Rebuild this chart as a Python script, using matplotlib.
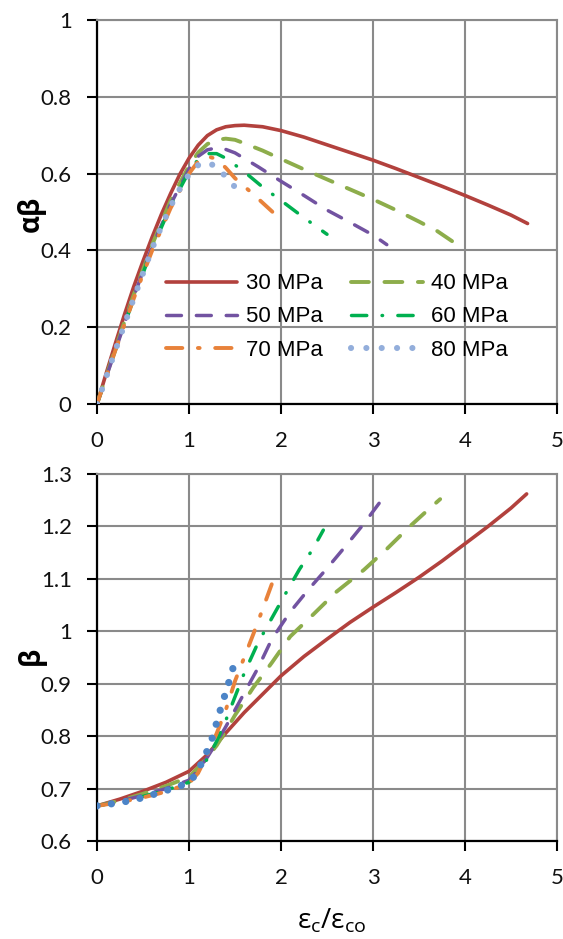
import matplotlib
matplotlib.use('Agg')
import matplotlib.pyplot as plt
from matplotlib.ticker import FixedLocator, FuncFormatter

plt.rcParams['font.family'] = ['Lato', 'DejaVu Sans']
plt.rcParams['mathtext.fontset'] = 'custom'
plt.rcParams['mathtext.rm'] = 'Open Sans'
plt.rcParams['mathtext.it'] = 'Open Sans'
plt.rcParams['mathtext.bf'] = 'Open Sans:bold'

# ---------------- data ----------------
labels = ['30 MPa', '40 MPa', '50 MPa', '60 MPa', '70 MPa', '80 MPa']

# top panel: alpha*beta vs strain ratio
x30 = [0, 0.1, 0.2, 0.3, 0.4, 0.5, 0.6, 0.7, 0.8, 0.9, 1.0, 1.1, 1.2, 1.3, 1.4, 1.5, 1.6, 1.8, 2.0,
       2.25, 2.5, 2.75, 3.0, 3.25, 3.5, 3.75, 4.0, 4.25, 4.5, 4.68]
y30 = [0, 0.08, 0.158, 0.234, 0.306, 0.372, 0.435, 0.494, 0.548, 0.598, 0.64, 0.674, 0.699, 0.714,
       0.722, 0.725, 0.726, 0.722, 0.712, 0.695, 0.675, 0.655, 0.635, 0.613, 0.59, 0.567, 0.543,
       0.518, 0.492, 0.47]
x40 = [0, 0.2, 0.4, 0.6, 0.8, 1.0, 1.1, 1.2, 1.3, 1.4, 1.5, 1.6, 1.8, 2.0, 2.25, 2.5, 2.75, 3.0, 3.25,
       3.5, 3.7, 3.86]
y40 = [0, 0.145, 0.285, 0.415, 0.53, 0.62, 0.655, 0.677, 0.688, 0.691, 0.688, 0.679, 0.66, 0.638,
       0.611, 0.585, 0.559, 0.533, 0.505, 0.475, 0.45, 0.424]
x50 = [0, 0.2, 0.4, 0.6, 0.8, 1.0, 1.1, 1.2, 1.3, 1.4, 1.5, 1.75, 2.0, 2.25, 2.5, 2.75, 3.0, 3.15]
y50 = [0, 0.14, 0.28, 0.41, 0.52, 0.612, 0.645, 0.662, 0.667, 0.663, 0.654, 0.618, 0.58, 0.543,
       0.505, 0.473, 0.44, 0.415]
x60 = [0, 0.2, 0.4, 0.6, 0.8, 1.0, 1.1, 1.2, 1.3, 1.4, 1.6, 1.8, 2.0, 2.2, 2.4, 2.5]
y60 = [0, 0.14, 0.275, 0.405, 0.515, 0.605, 0.637, 0.652, 0.652, 0.64, 0.605, 0.565, 0.53, 0.494,
       0.459, 0.442]
x70 = [0, 0.2, 0.4, 0.6, 0.8, 1.0, 1.1, 1.2, 1.3, 1.4, 1.5, 1.6, 1.7, 1.8, 1.9, 2.0]
y70 = [0, 0.14, 0.275, 0.4, 0.51, 0.6, 0.632, 0.645, 0.638, 0.615, 0.588, 0.567, 0.546, 0.524,
       0.502, 0.478]
x80 = [0, 0.1, 0.2, 0.3, 0.4, 0.5, 0.6, 0.7, 0.8, 0.9, 1.0, 1.1, 1.2, 1.3, 1.4, 1.5]
y80 = [0, 0.07, 0.14, 0.208, 0.275, 0.34, 0.405, 0.462, 0.515, 0.56, 0.598, 0.622, 0.63, 0.617,
       0.592, 0.565]

# bottom panel: beta vs strain ratio
bx30 = [0, 0.25, 0.5, 0.75, 1.0, 1.2, 1.4, 1.6, 1.8, 2.0, 2.25, 2.5, 2.75, 3.0, 3.25, 3.5, 3.75,
        4.0, 4.25, 4.5, 4.67]
by30 = [0.667, 0.68, 0.695, 0.712, 0.733, 0.765, 0.806, 0.845, 0.88, 0.915, 0.952, 0.985, 1.017,
        1.046, 1.074, 1.103, 1.134, 1.167, 1.2, 1.235, 1.262]
bx40 = [0, 0.25, 0.5, 0.75, 1.0, 1.1, 1.2, 1.3, 1.4, 1.5, 1.7, 1.9, 2.1, 2.35, 2.6, 2.9, 3.15, 3.4,
        3.6, 3.73]
by40 = [0.667, 0.677, 0.69, 0.705, 0.722, 0.74, 0.76, 0.782, 0.81, 0.84, 0.893, 0.94, 0.99, 1.032,
        1.075, 1.117, 1.157, 1.2, 1.232, 1.252]
bx50 = [0, 0.25, 0.5, 0.75, 1.0, 1.1, 1.2, 1.3, 1.4, 1.5, 1.6, 1.75, 1.9, 2.1, 2.3, 2.5, 2.7, 2.9, 3.07]
by50 = [0.667, 0.676, 0.687, 0.7, 0.716, 0.735, 0.76, 0.788, 0.818, 0.85, 0.882, 0.93, 0.985,
        1.037, 1.08, 1.12, 1.162, 1.205, 1.245]
bx60 = [0, 0.25, 0.5, 0.75, 1.0, 1.1, 1.2, 1.3, 1.4, 1.5, 1.6, 1.75, 1.9, 2.05, 2.2, 2.35, 2.46]
by60 = [0.667, 0.675, 0.685, 0.697, 0.712, 0.73, 0.757, 0.79, 0.83, 0.875, 0.92, 0.978, 1.025,
        1.072, 1.118, 1.158, 1.193]
bx70 = [0, 0.25, 0.5, 0.75, 1.0, 1.1, 1.2, 1.3, 1.4, 1.5, 1.6, 1.7, 1.8, 1.9, 1.96]
by70 = [0.667, 0.674, 0.683, 0.694, 0.71, 0.73, 0.765, 0.805, 0.85, 0.905, 0.95, 0.995, 1.042,
        1.09, 1.113]
bx80 = [0, 0.2, 0.4, 0.6, 0.8, 0.95, 1.05, 1.15, 1.25, 1.35, 1.42, 1.49]
by80 = [0.667, 0.672, 0.678, 0.688, 0.699, 0.708, 0.722, 0.752, 0.795, 0.856, 0.895, 0.937]

x_ticks = [0, 1, 2, 3, 4, 5]
top_yticks = [0, 0.2, 0.4, 0.6, 0.8, 1.0]
bot_yticks = [0.6, 0.7, 0.8, 0.9, 1.0, 1.1, 1.2, 1.3]

# ---------------- styles ----------------
colors = ['#B2413D', '#8DAD4B', '#7253A1', '#00B050', '#E8823A', '#93AEDB']
blue_bottom = '#4C84C7'
lws = [2.6, 2.8, 2.5, 2.5, 2.8, 4.4]
dashes = [None, (4.6, 4.0), (4.3, 4.3), (4.4, 4.4, 0.15, 4.4), (4.2, 4.0, 0.45, 4.0), (0.01, 2.5)]

fig = plt.figure(figsize=(5.63, 9.39), dpi=100)
ax1 = fig.add_axes([97 / 563, 1 - 404 / 939, 460 / 563, 384 / 939])
ax2 = fig.add_axes([97 / 563, 1 - 841 / 939, 460 / 563, 367 / 939])

def gen_fmt(v, pos):
    return '%g' % round(v, 3)

def style_axes(ax, yticks, ylim):
    ax.set_xlim(0, 5)
    ax.set_ylim(*ylim)
    ax.xaxis.set_major_locator(FixedLocator(x_ticks))
    ax.yaxis.set_major_locator(FixedLocator(yticks))
    ax.xaxis.set_major_formatter(FuncFormatter(gen_fmt))
    ax.yaxis.set_major_formatter(FuncFormatter(gen_fmt))
    ax.grid(True, color='#8A8A8A', linewidth=1.5, zorder=0)
    ax.set_axisbelow(True)
    for s in ['top', 'right']:
        ax.spines[s].set_color('#8A8A8A')
        ax.spines[s].set_linewidth(1.5)
    for s in ['left', 'bottom']:
        ax.spines[s].set_color('black')
        ax.spines[s].set_linewidth(1.6)
    ax.tick_params(axis='both', direction='out', length=7.2, width=1.5, color='black',
                   labelsize=16, labelcolor='#111111')
    ax.tick_params(axis='y', pad=11)
    ax.tick_params(axis='x', pad=12)

top_x = [x30, x40, x50, x60, x70, x80]
top_y = [y30, y40, y50, y60, y70, y80]
bot_x = [bx30, bx40, bx50, bx60, bx70, bx80]
bot_y = [by30, by40, by50, by60, by70, by80]

handles = []
for i in range(6):
    kw = dict(color=colors[i], lw=lws[i], solid_capstyle='round', dash_capstyle='round',
              label=labels[i], zorder=3 + i)
    line, = ax1.plot(top_x[i], top_y[i], **kw)
    if dashes[i] is not None:
        line.set_dashes(dashes[i])
    handles.append(line)
    kw2 = dict(kw)
    if i == 5:
        kw2['color'] = blue_bottom
        kw2['lw'] = 5.2
    line2, = ax2.plot(bot_x[i], bot_y[i], **kw2)
    if dashes[i] is not None:
        d = dashes[i] if i != 5 else (0.01, 2.0)
        line2.set_dashes(d)

style_axes(ax1, top_yticks, (0, 1))
style_axes(ax2, bot_yticks, (0.6, 1.3))

# row-wise legend order (30,40 / 50,60 / 70,80) in a 2-column legend
order = [0, 2, 4, 1, 3, 5]
leg = ax1.legend([handles[k] for k in order], [labels[k] for k in order], ncol=2, loc='center',
                 bbox_to_anchor=((337 - 97) / 460, (404 - 317) / 384),
                 frameon=False, prop={'family': 'Liberation Sans', 'size': 16},
                 handlelength=3.2, handletextpad=0.4, columnspacing=1.3, labelspacing=0.55)

fig.text(31 / 563, 1 - 214 / 939, 'αβ', rotation=90, ha='center', va='center',
         fontsize=20, fontweight='bold', family=['Open Sans', 'DejaVu Sans'])
fig.text(31 / 563, 1 - 656 / 939, 'β', rotation=90, ha='center', va='center',
         fontsize=20, fontweight='bold', family=['Open Sans', 'DejaVu Sans'])
fig.text(332 / 563, 1 - 921 / 939, r'$\mathrm{ε_c/ε_{co}}$', ha='center', va='center',
         fontsize=20)

fig.savefig('out.png', dpi=100)
